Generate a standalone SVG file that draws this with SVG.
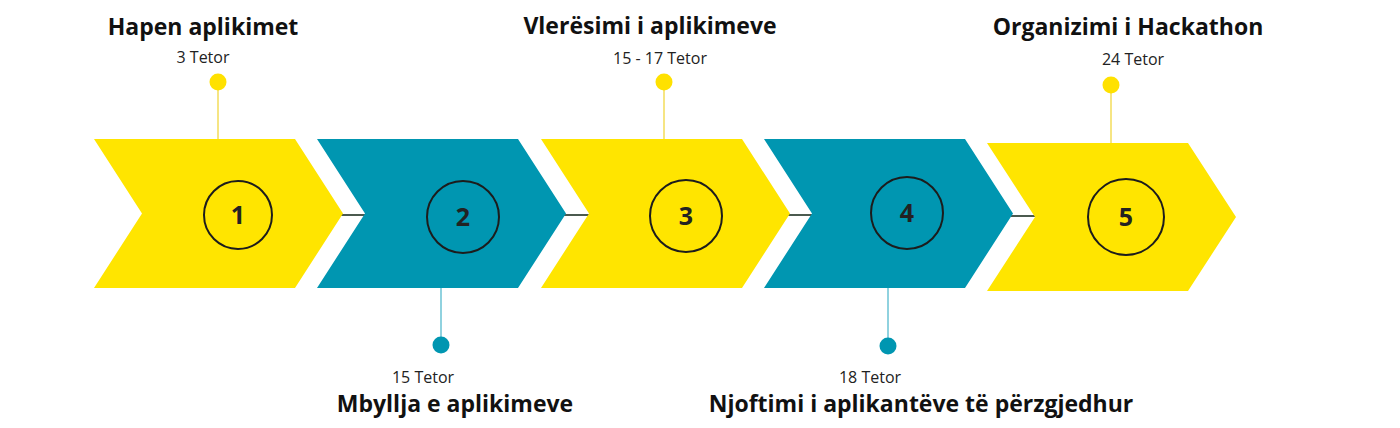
<svg xmlns="http://www.w3.org/2000/svg" width="1400" height="428" viewBox="0 0 1400 428">
<style>
.yel{fill:#FFE500}
.teal{fill:#0096B1}
.ring{fill:none;stroke:#1c1c1c;stroke-width:2}
.num{font-family:"Open Sans","Liberation Sans",sans-serif;font-weight:700;font-size:25px;fill:#222;text-anchor:middle}
.title{font-family:"Open Sans","Liberation Sans",sans-serif;font-weight:700;font-size:23px;fill:#111;text-anchor:middle}
.date{font-family:"Open Sans","Liberation Sans",sans-serif;font-weight:400;font-size:16px;fill:#222;text-anchor:middle}
.link{stroke:#4b5a4f;stroke-width:2}
.ystem{stroke:#F3DC5A;stroke-width:1.5}
.tstem{stroke:#6BC3D5;stroke-width:1.5}
.ydot{fill:#FFE100}
.tdot{fill:#0096B1}
</style>
<g id="connectors">
<line class="link" x1="341" y1="215" x2="367" y2="215"/>
<line class="link" x1="563" y1="215" x2="591" y2="215"/>
<line class="link" x1="787" y1="215" x2="814" y2="215"/>
<line class="link" x1="1011" y1="216" x2="1037" y2="216"/>
</g>
<g id="step1">
<polygon class="yel" points="94,139 295,139 343,213.5 295,288 94,288 142,213.5"/>
<circle class="ring" cx="238" cy="215" r="34"/>
<text class="num" x="238" y="224">1</text>
<line class="ystem" x1="218" y1="88" x2="218" y2="139"/>
<circle class="ydot" cx="218" cy="82" r="8.5"/>
<text class="title" x="203" y="35">Hapen aplikimet</text>
<text class="date" x="203" y="63">3 Tetor</text>
</g>
<g id="step2">
<polygon class="teal" points="317,139 518,139 566,213.5 518,288 317,288 365,213.5"/>
<circle class="ring" cx="463" cy="217" r="36"/>
<text class="num" x="463" y="226">2</text>
<line class="tstem" x1="441" y1="288" x2="441" y2="340"/>
<circle class="tdot" cx="441" cy="345" r="8.5"/>
<text class="date" x="423" y="383">15 Tetor</text>
<text class="title" x="455" y="412">Mbyllja e aplikimeve</text>
</g>
<g id="step3">
<polygon class="yel" points="541,139 742,139 790,213.5 742,288 541,288 589,213.5"/>
<circle class="ring" cx="686" cy="216" r="36"/>
<text class="num" x="686" y="225">3</text>
<line class="ystem" x1="664" y1="88" x2="664" y2="139"/>
<circle class="ydot" cx="664" cy="82" r="8.5"/>
<text class="title" x="650" y="34">Vlerësimi i aplikimeve</text>
<text class="date" x="660" y="64">15 - 17 Tetor</text>
</g>
<g id="step4">
<polygon class="teal" points="764,139 965,139 1013,213.5 965,288 764,288 812,213.5"/>
<circle class="ring" cx="907" cy="213" r="36"/>
<text class="num" x="907" y="222">4</text>
<line class="tstem" x1="888" y1="288" x2="888" y2="341"/>
<circle class="tdot" cx="888" cy="346" r="8.5"/>
<text class="date" x="870" y="383">18 Tetor</text>
<text class="title" x="921" y="412">Njoftimi i aplikantëve të përzgjedhur</text>
</g>
<g id="step5">
<polygon class="yel" points="987,143 1188,143 1236,217 1188,291 987,291 1035,217"/>
<circle class="ring" cx="1126" cy="217" r="38"/>
<text class="num" x="1126" y="226">5</text>
<line class="ystem" x1="1111" y1="91" x2="1111" y2="143"/>
<circle class="ydot" cx="1111" cy="85" r="8.5"/>
<text class="title" x="1128" y="35">Organizimi i Hackathon</text>
<text class="date" x="1133" y="65">24 Tetor</text>
</g>
</svg>
